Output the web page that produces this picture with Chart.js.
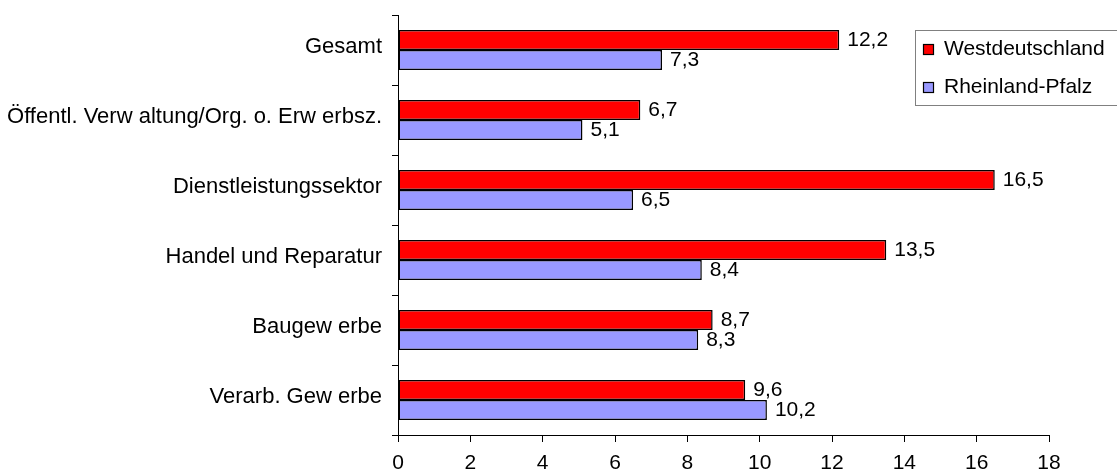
<!DOCTYPE html>
<html>
<head>
<meta charset="utf-8">
<script src="https://cdn.jsdelivr.net/npm/chart.js@4/dist/chart.umd.min.js"></script>
<style>
  html, body { margin: 0; padding: 0; background: #fff; }
  #wrap { width: 1117px; height: 473px; position: relative; }
</style>
</head>
<body>
<div id="wrap"><canvas id="chart"></canvas></div>
<script>
// ─── Data ────────────────────────────────────────────────────────────────────
const CATEGORIES = [
  'Gesamt',
  'Öffentl. Verw altung/Org. o. Erw erbsz.',
  'Dienstleistungssektor',
  'Handel und Reparatur',
  'Baugew erbe',
  'Verarb. Gew erbe'
];
const WEST_DATA = [12.2, 6.7, 16.5, 13.5, 8.7, 9.6];
const RLP_DATA  = [7.3, 5.1, 6.5, 8.4, 8.3, 10.2];
const SERIES_NAMES = ['Westdeutschland', 'Rheinland-Pfalz'];
const X_TICKS = [0, 2, 4, 6, 8, 10, 12, 14, 16, 18];

const FONT = 'Liberation Sans, Arial, sans-serif';

// value labels at bar ends, German decimal comma
const valueLabels = {
  id: 'valueLabels',
  afterDatasetsDraw(chart) {
    const ctx = chart.ctx;
    ctx.save();
    ctx.font = '21px ' + FONT;
    ctx.fillStyle = '#000';
    ctx.textAlign = 'left';
    ctx.textBaseline = 'middle';
    chart.data.datasets.forEach((ds, di) => {
      chart.getDatasetMeta(di).data.forEach((bar, i) => {
        const txt = ds.data[i].toFixed(1).replace('.', ',');
        ctx.fillText(txt, bar.x + 8, bar.y);
      });
    });
    ctx.restore();
  }
};

// legend box in the upper right corner
const boxLegend = {
  id: 'boxLegend',
  afterDraw(chart) {
    const ctx = chart.ctx;
    ctx.save();
    ctx.fillStyle = '#fff';
    ctx.fillRect(915, 30, 210, 75);
    ctx.strokeStyle = '#808080';
    ctx.lineWidth = 1;
    ctx.strokeRect(915.5, 30.5, 210, 75);
    ctx.font = '21px ' + FONT;
    ctx.textBaseline = 'middle';
    chart.data.datasets.forEach((ds, i) => {
      const cy = 49 + i * 38;
      ctx.fillStyle = ds.backgroundColor;
      ctx.fillRect(923, cy - 5, 11, 11);
      ctx.strokeStyle = '#000';
      ctx.lineWidth = 1.2;
      ctx.strokeRect(923.5, cy - 4.5, 10, 10);
      ctx.fillStyle = '#000';
      ctx.fillText(ds.label, 944, cy);
    });
    ctx.restore();
  }
};

new Chart(document.getElementById('chart'), {
  type: 'bar',
  data: {
    labels: CATEGORIES,
    datasets: [
      {
        label: SERIES_NAMES[0],
        data: WEST_DATA,
        backgroundColor: '#FF0000',
        borderColor: '#000',
        borderWidth: 1.5,
        borderSkipped: false,
        categoryPercentage: 0.572,
        barPercentage: 1
      },
      {
        label: SERIES_NAMES[1],
        data: RLP_DATA,
        backgroundColor: '#9999FF',
        borderColor: '#000',
        borderWidth: 1.5,
        borderSkipped: false,
        categoryPercentage: 0.572,
        barPercentage: 1
      }
    ]
  },
  options: {
    indexAxis: 'y',
    responsive: true,
    maintainAspectRatio: false,
    animation: false,
    layout: { padding: { top: 15, right: 68, bottom: 0, left: 0 } },
    scales: {
      x: {
        min: 0,
        max: 18,
        afterBuildTicks(axis) { axis.ticks = X_TICKS.map(v => ({ value: v })); },
        afterFit(axis) { axis.height = 38; axis.paddingLeft = 0; axis.paddingRight = 0; },
        grid: { drawOnChartArea: false, color: '#000', tickLength: 7 },
        border: { color: '#000', width: 1 },
        ticks: {
          color: '#000',
          font: { family: FONT, size: 21 },
          padding: 9,
          maxRotation: 0
        }
      },
      y: {
        afterFit(axis) { axis.width = 398; axis.paddingTop = 0; axis.paddingBottom = 0; },
        grid: { drawOnChartArea: false, color: '#000', tickLength: 6, offset: true },
        border: { color: '#000', width: 1 },
        ticks: {
          color: '#000',
          font: { family: FONT, size: 22 },
          padding: 10,
          labelOffset: -3
        }
      }
    },
    plugins: {
      legend: { display: false },
      tooltip: { enabled: false }
    }
  },
  plugins: [valueLabels, boxLegend]
});
</script>
</body>
</html>
